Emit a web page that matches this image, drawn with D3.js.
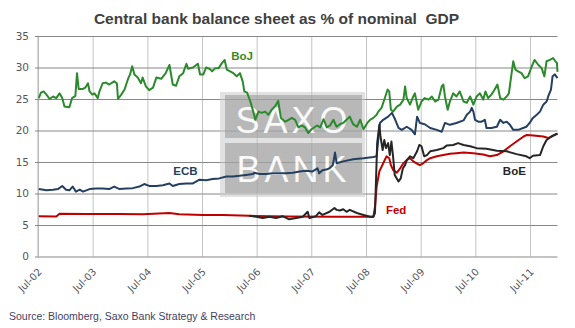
<!DOCTYPE html>
<html><head><meta charset="utf-8">
<script src="https://cdn.jsdelivr.net/npm/d3@7"></script>
<style>
body{margin:0;background:#fff;}
svg{display:block;}
</style></head>
<body><svg id="chart" width="575" height="328"></svg>
<script>
// ---- data (time as decimal years, values in % of GDP) ----
const title = "Central bank balance sheet as % of nominal  GDP";
const source = "Source: Bloomberg, Saxo Bank Strategy & Research";
const yTicks = [0,5,10,15,20,25,30,35];
const xTickYears = [2002,2003,2004,2005,2006,2007,2008,2009,2010,2011];

const bojT = [2002.51,2002.55,2002.60,2002.65,2002.71,2002.77,2002.83,2002.89,2002.94,2002.98,2003.07,2003.12,2003.18,2003.21,2003.24,2003.32,2003.36,2003.41,2003.44,2003.49,2003.53,2003.59,2003.62,2003.68,2003.74,2003.80,2003.89,2003.94,2003.96,2004.02,2004.08,2004.14,2004.18,2004.22,2004.26,2004.32,2004.38,2004.41,2004.47,2004.53,2004.60,2004.66,2004.75,2004.83,2004.90,2004.96,2005.02,2005.08,2005.15,2005.21,2005.24,2005.33,2005.42,2005.46,2005.52,2005.57,2005.63,2005.68,2005.74,2005.80,2005.86,2005.91,2005.95,2006.01,2006.07,2006.13,2006.19,2006.24,2006.27,2006.32,2006.38,2006.44,2006.47,2006.53,2006.59,2006.65,2006.71,2006.77,2006.83,2006.89,2006.94,2007.02,2007.08,2007.14,2007.20,2007.26,2007.32,2007.38,2007.44,2007.50,2007.60,2007.66,2007.72,2007.78,2007.84,2007.90,2007.96,2008.02,2008.08,2008.14,2008.20,2008.26,2008.33,2008.39,2008.45,2008.52,2008.57,2008.63,2008.69,2008.72,2008.78,2008.84,2008.89,2008.92,2008.95,2008.99,2009.06,2009.12,2009.18,2009.21,2009.24,2009.30,2009.36,2009.39,2009.45,2009.51,2009.57,2009.64,2009.70,2009.76,2009.82,2009.88,2009.91,2009.94,2009.99,2010.03,2010.09,2010.15,2010.21,2010.28,2010.34,2010.40,2010.46,2010.52,2010.58,2010.64,2010.68,2010.73,2010.79,2010.85,2010.90,2010.95,2011.01,2011.07,2011.11,2011.16,2011.19,2011.23,2011.28,2011.34,2011.40,2011.46,2011.53,2011.58,2011.65,2011.71,2011.76,2011.80,2011.86,2011.92,2011.96,2011.99,2012.00];
const bojV = [25.15,26.0,26.2,25.7,25.0,25.4,25.15,25.9,25.15,23.8,23.7,25.15,25.5,29.1,26.6,26.6,26.8,27.5,26.2,25.7,25.9,25.15,26.2,27.5,27.6,27.3,27.8,27.5,25.0,25.7,26.5,28.1,28.9,30.2,28.9,28.4,27.5,28.4,27.0,26.4,26.8,28.4,28.2,29.1,30.4,27.3,27.1,28.6,29.1,30.6,29.8,30.0,30.6,28.9,28.9,30.0,29.8,29.4,29.9,29.9,30.7,31.2,29.65,29.4,29.1,28.6,29.1,27.8,26.2,26.0,24.6,22.8,21.7,23.0,22.8,23.0,22.5,23.3,23.8,24.7,22.0,21.4,21.7,22.0,21.7,20.5,20.8,20.5,19.6,20.2,20.8,20.5,21.8,20.5,20.8,21.7,20.6,21.0,21.2,21.7,22.2,21.0,20.6,21.7,20.2,21.2,21.7,22.0,22.5,23.0,23.6,25.15,26.5,26.2,23.3,23.0,23.8,24.1,24.9,27.0,25.15,24.1,25.4,25.9,23.3,24.6,25.15,24.9,25.4,24.6,24.9,27.0,27.3,25.4,23.3,24.6,25.9,25.4,26.2,24.6,24.4,25.4,24.1,25.4,25.9,24.9,26.2,25.15,25.7,26.5,27.3,25.15,24.9,25.4,25.9,29.1,31.0,29.65,29.4,29.1,28.3,28.6,30.2,31.2,30.4,29.9,28.6,31.0,31.2,31.5,31.0,30.7,29.3];

const ecbT = [2002.51,2002.65,2002.77,2002.86,2002.94,2003.01,2003.07,2003.13,2003.19,2003.26,2003.32,2003.44,2003.56,2003.68,2003.80,2003.89,2003.99,2004.11,2004.23,2004.35,2004.44,2004.53,2004.66,2004.78,2004.90,2004.96,2005.08,2005.21,2005.33,2005.45,2005.57,2005.69,2005.81,2005.94,2006.06,2006.18,2006.30,2006.43,2006.45,2006.55,2006.67,2006.79,2006.91,2007.03,2007.16,2007.28,2007.40,2007.52,2007.61,2007.64,2007.70,2007.77,2007.83,2007.89,2007.93,2007.96,2008.08,2008.26,2008.45,2008.63,2008.69,2008.75,2008.81,2008.90,2008.97,2009.03,2009.09,2009.15,2009.24,2009.33,2009.39,2009.43,2009.48,2009.57,2009.67,2009.79,2009.88,2009.94,2010.03,2010.15,2010.28,2010.34,2010.40,2010.43,2010.46,2010.49,2010.55,2010.61,2010.67,2010.70,2010.79,2010.89,2010.95,2011.01,2011.07,2011.13,2011.19,2011.28,2011.37,2011.43,2011.49,2011.55,2011.62,2011.68,2011.74,2011.80,2011.83,2011.88,2011.91,2011.95,2012.00];
const ecbV = [10.7,10.5,10.6,10.7,11.2,10.6,10.5,11.1,10.3,10.6,10.3,10.7,10.8,10.8,10.7,11.1,10.7,10.8,10.85,11.1,11.5,11.2,11.2,11.3,11.6,11.2,11.5,11.6,11.6,12.2,12.1,12.3,12.4,12.7,12.7,12.8,12.95,13.1,13.3,13.1,13.1,13.2,13.2,13.2,13.3,13.5,13.6,13.5,14.0,13.2,13.7,13.8,14.0,14.5,16.5,14.8,15.1,15.45,15.6,15.8,15.9,21.2,21.7,22.2,22.8,21.7,20.4,20.1,20.6,20.1,19.4,22.2,21.2,21.0,20.4,20.1,19.8,21.2,20.9,21.2,21.6,22.5,23.0,23.6,23.0,21.7,21.4,21.4,21.7,20.4,20.4,20.6,21.7,21.2,21.4,20.9,20.1,20.1,20.4,20.6,21.2,22.0,22.5,23.0,24.1,24.6,25.4,26.5,28.6,28.9,28.3];

const fedT = [2002.51,2002.83,2002.89,2003.38,2003.99,2004.41,2004.90,2005.08,2005.51,2005.88,2006.36,2007.09,2007.89,2008.63,2008.66,2008.69,2008.74,2008.81,2008.87,2008.92,2008.95,2008.99,2009.06,2009.12,2009.18,2009.24,2009.30,2009.36,2009.42,2009.48,2009.54,2009.61,2009.67,2009.79,2009.91,2010.03,2010.15,2010.28,2010.46,2010.64,2010.76,2010.89,2011.01,2011.13,2011.25,2011.38,2011.44,2011.56,2011.74,2011.83,2011.92,2012.00];
const fedV = [6.4,6.35,6.8,6.75,6.75,6.7,6.9,6.7,6.6,6.6,6.45,6.35,6.3,6.3,7.9,11.1,13.5,14.8,15.9,15.6,14.5,13.75,13.3,14.0,14.8,15.3,15.6,15.1,14.8,14.5,14.8,15.3,15.6,15.9,16.1,16.3,16.4,16.5,16.4,16.2,15.9,16.1,16.7,17.5,18.25,19.05,19.3,19.2,19.05,18.8,19.2,19.5];

const boeT = [2006.36,2006.49,2006.61,2006.73,2006.85,2006.97,2007.09,2007.22,2007.34,2007.43,2007.46,2007.58,2007.64,2007.70,2007.83,2007.92,2007.96,2008.02,2008.08,2008.14,2008.20,2008.33,2008.45,2008.57,2008.63,2008.66,2008.70,2008.74,2008.76,2008.80,2008.83,2008.86,2008.90,2008.93,2008.96,2008.99,2009.02,2009.09,2009.13,2009.17,2009.21,2009.24,2009.30,2009.36,2009.43,2009.47,2009.51,2009.56,2009.61,2009.67,2009.79,2009.91,2009.97,2010.09,2010.18,2010.28,2010.40,2010.52,2010.70,2010.89,2011.07,2011.25,2011.43,2011.49,2011.55,2011.68,2011.74,2011.80,2011.89,2012.00];
const boeV = [6.45,6.3,6.1,6.3,6.1,6.4,5.9,6.1,6.3,7.1,6.1,6.4,7.0,6.6,7.1,7.7,7.4,7.3,7.5,7.1,7.4,6.9,6.6,6.3,6.3,6.9,18.0,20.9,19.05,16.9,18.5,17.2,18.0,16.1,18.25,15.9,12.95,11.9,12.4,14.0,14.5,15.3,15.9,15.6,16.7,17.7,17.5,15.9,16.1,16.7,16.9,17.2,17.6,17.7,18.0,17.7,17.5,17.2,17.1,16.8,16.7,16.25,15.9,15.6,16.0,16.1,17.5,18.5,19.05,19.5];

const seriesNames = ["BoJ","ECB","Fed","BoE"];
const seriesColors = ["#2b8a2b","#243f60","#c00000","#262626"];
const labelColors = ["#3a8a22","#243f60","#c00000","#262626"];
// annotation anchors in data units (time, value)
const labelT = [2006.03,2004.97,2008.86,2011.0];
const labelV = [31.2,13.0,6.75,12.9];

// ---- drawing ----
function toDate(t){
  const y = Math.floor(t);
  const s = new Date(y,0,1), e = new Date(y+1,0,1);
  return new Date(+s + (t-y)*(e-s));
}
const svg = d3.select("#chart");
const L = 38, R = 557.5, T = 36, B = 256.5;
const x = d3.scaleTime().domain([new Date(2002,6,1), toDate(2012.0)]).range([L,R]);
const y = d3.scaleLinear().domain([0,35]).range([B,T]);

// title
svg.append("text").attr("x",276.5).attr("y",24).attr("text-anchor","middle")
  .style("font-family","'Liberation Sans', Arial, sans-serif").style("font-weight","bold")
  .style("font-size","15.5px").style("fill","#404040").style("white-space","pre").text(title);

// vertical grid + x axis
const xAxis = d3.axisBottom(x).tickValues(xTickYears.map(yr=>new Date(yr,6,1)))
  .tickSize(-(B-T)).tickFormat(d3.timeFormat("%b-%y"));
const gx = svg.append("g").attr("transform",`translate(0,${B})`).call(xAxis);
gx.select(".domain").remove();
gx.selectAll(".tick line").attr("stroke","#c4c4c4");
gx.selectAll(".tick text").attr("x",0).attr("y",0).attr("dy",0)
  .attr("text-anchor","end").attr("transform","translate(4,16) rotate(-45)")
  .style("font-family","'DejaVu Sans', Verdana, sans-serif").style("font-size","10px").attr("fill","#555560");

// left axis line
svg.append("line").attr("x1",L).attr("x2",L).attr("y1",T).attr("y2",B).attr("stroke","#b0b0b0");

// horizontal grid + y axis
const yAxis = d3.axisLeft(y).tickValues(yTicks).tickSize(-(R-L)).tickPadding(9);
const gy = svg.append("g").attr("transform",`translate(${L},0)`).call(yAxis);
gy.select(".domain").remove();
gy.selectAll(".tick line").attr("stroke","#878787").attr("x1",-3);
gy.selectAll(".tick text").style("font-family","'DejaVu Sans', Verdana, sans-serif")
  .style("font-size","10.5px").attr("fill","#555560");

// watermark
const wm = svg.append("g");
wm.append("rect").attr("x",220).attr("y",92).attr("width",145).attr("height",105).attr("fill","#c8c8c8").attr("opacity",0.55);
wm.append("rect").attr("x",225).attr("y",95).attr("width",137).attr("height",43).attr("fill","#8f8f8f").attr("opacity",0.5);
wm.append("rect").attr("x",225).attr("y",143).attr("width",137).attr("height",50).attr("fill","#8f8f8f").attr("opacity",0.5);
wm.append("text").attr("x",293.5).attr("y",133).attr("text-anchor","middle").text("SAXO")
  .style("font-family","'Liberation Sans', Arial, sans-serif").style("font-size","36px").style("letter-spacing","4px").attr("fill","#fff").attr("opacity",0.92);
wm.append("text").attr("x",293.5).attr("y",182).attr("text-anchor","middle").text("BANK")
  .style("font-family","'Liberation Sans', Arial, sans-serif").style("font-size","36px").style("letter-spacing","4px").attr("fill","#fff").attr("opacity",0.92);

// lines
const seriesT = [bojT, ecbT, fedT, boeT];
const seriesV = [bojV, ecbV, fedV, boeV];
const line = d3.line().x(d=>x(d[0])).y(d=>y(d[1]));
seriesNames.forEach((n,i)=>{
  const pts = seriesT[i].map((t,j)=>[toDate(t), seriesV[i][j]]);
  svg.append("path").datum(pts).attr("d",line).attr("fill","none")
    .attr("stroke",seriesColors[i]).attr("stroke-width",2).attr("stroke-linejoin","round");
});

// series labels
seriesNames.forEach((n,i)=>{
  svg.append("text").attr("x",x(toDate(labelT[i]))).attr("y",y(labelV[i])).text(n)
    .style("font-family","'Liberation Sans', Arial, sans-serif").style("font-weight","bold")
    .style("font-size","11.5px").attr("fill",labelColors[i]);
});

// source
svg.append("text").attr("x",9).attr("y",320).text(source)
  .style("font-family","'Liberation Sans', Arial, sans-serif").style("font-size","10.5px").attr("fill","#3f3f5f");
</script>
</body></html>
